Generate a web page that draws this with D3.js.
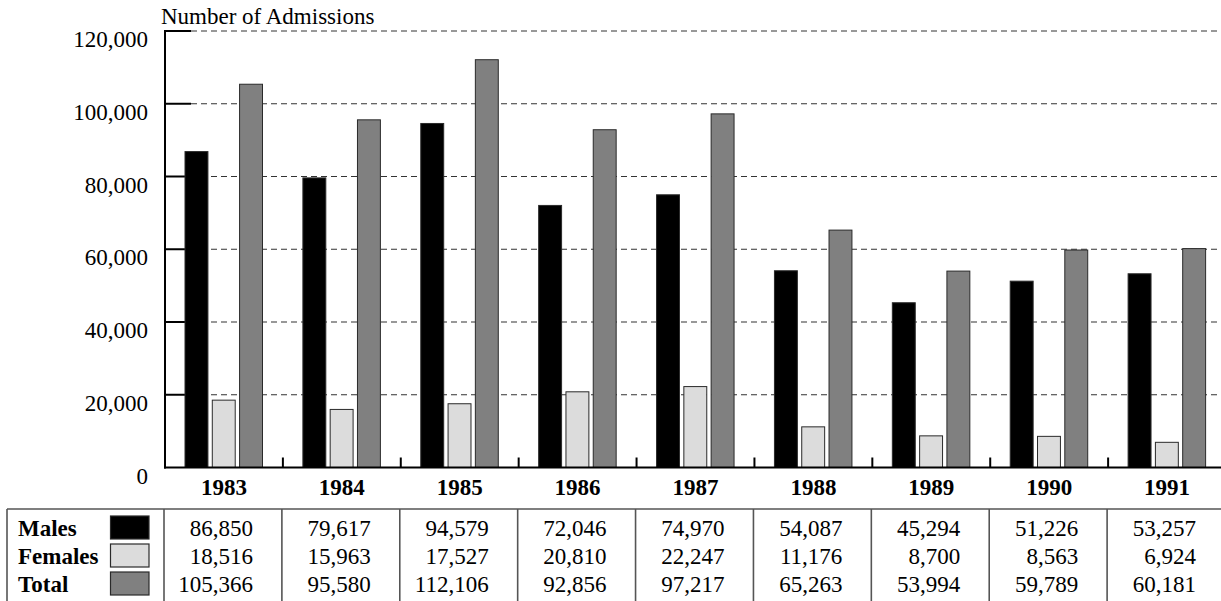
<!DOCTYPE html>
<html>
<head>
<meta charset="utf-8">
<script src="https://cdn.jsdelivr.net/npm/d3@7"></script>
<style>
  html, body { margin: 0; padding: 0; background: #fff; }
  svg { display: block; }
</style>
</head>
<body>
<svg id="chart" width="1221" height="601" font-family="'Liberation Serif', 'Times New Roman', 'DejaVu Serif', serif"></svg>
<script>
// Admissions by year, split by sex
const years = ["1983", "1984", "1985", "1986", "1987", "1988", "1989", "1990", "1991"];
const males = [86850, 79617, 94579, 72046, 74970, 54087, 45294, 51226, 53257];
const females = [18516, 15963, 17527, 20810, 22247, 11176, 8700, 8563, 6924];
const totals = [105366, 95580, 112106, 92856, 97217, 65263, 53994, 59789, 60181];
const yTicks = [0, 20000, 40000, 60000, 80000, 100000, 120000];
const seriesNames = ["Males", "Females", "Total"];
const seriesColors = ["#000000", "#dcdcdc", "#808080"];

const svg = d3.select("#chart");
const W = 1221, H = 601;
const fontSize = 23;
const serif = "Liberation Serif, Times New Roman, DejaVu Serif, serif";
const fmt = d3.format(",");

const x = d3.scaleBand().domain(years).range([165, 1226]).padding(0);
const y = d3.scaleLinear().domain([0, 120000]).range([467.5, 31]);
const inner = d3.scaleBand().domain(seriesNames).range([20, 97.5]).paddingInner(0.16).paddingOuter(0);

const series = [males, females, totals];

function label(sel) {
  return sel.style("font-family", serif).style("font-size", fontSize + "px").attr("fill", "#000");
}

// dashed gridlines
svg.append("g").selectAll("line")
  .data(yTicks.filter(d => d > 0))
  .join("line")
  .attr("x1", 191).attr("x2", W)
  .attr("y1", d => y(d)).attr("y2", d => y(d))
  .attr("stroke", "#333").attr("stroke-width", 1.2)
  .attr("stroke-dasharray", "6,4");

// short solid ticks on the value axis
svg.append("g").selectAll("line")
  .data(yTicks.filter(d => d > 0))
  .join("line")
  .attr("x1", 165).attr("x2", 191)
  .attr("y1", d => y(d)).attr("y2", d => y(d))
  .attr("stroke", "#000").attr("stroke-width", 2);

// value axis labels
svg.append("g").selectAll("text")
  .data(yTicks)
  .join("text")
  .attr("x", 148)
  .attr("y", d => y(d) + 16)
  .attr("text-anchor", "end")
  .call(label)
  .text(d => fmt(d));

// axis title
svg.append("text")
  .attr("x", 161).attr("y", 24)
  .call(label)
  .text("Number of Admissions");

// bars
const barsG = svg.append("g");
years.forEach((yr, i) => {
  seriesNames.forEach((s, j) => {
    const v = series[j][i];
    barsG.append("rect")
      .attr("x", x(yr) + inner(s))
      .attr("width", inner.bandwidth())
      .attr("y", y(v))
      .attr("height", y(0) - y(v))
      .attr("fill", seriesColors[j])
      .attr("stroke", "#2a2a2a")
      .attr("stroke-width", 1);
  });
});

// axes lines
svg.append("line")
  .attr("x1", 165).attr("x2", 165)
  .attr("y1", y(120000) - 1).attr("y2", y(0) + 1)
  .attr("stroke", "#000").attr("stroke-width", 2);
svg.append("line")
  .attr("x1", 164).attr("x2", W)
  .attr("y1", y(0)).attr("y2", y(0))
  .attr("stroke", "#000").attr("stroke-width", 2.2);

// category separator ticks
svg.append("g").selectAll("line")
  .data(years.slice(1))
  .join("line")
  .attr("x1", d => x(d)).attr("x2", d => x(d))
  .attr("y1", y(0)).attr("y2", y(0) - 10)
  .attr("stroke", "#000").attr("stroke-width", 2);

// year labels
svg.append("g").selectAll("text")
  .data(years)
  .join("text")
  .attr("x", d => x(d) + x.bandwidth() / 2)
  .attr("y", 495)
  .attr("text-anchor", "middle")
  .call(label)
  .style("font-weight", "bold")
  .text(d => d);

// data table
const tableTop = 509;
const rowBase = [535.5, 563.5, 591.5];
const tbl = svg.append("g");
tbl.append("line")
  .attr("x1", 7).attr("x2", W)
  .attr("y1", tableTop).attr("y2", tableTop)
  .attr("stroke", "#555").attr("stroke-width", 1.6);
tbl.append("line")
  .attr("x1", 7).attr("x2", 7)
  .attr("y1", tableTop).attr("y2", H)
  .attr("stroke", "#555").attr("stroke-width", 1.6);
tbl.selectAll("line.sep")
  .data(years)
  .join("line")
  .attr("class", "sep")
  .attr("x1", d => x(d) - 1).attr("x2", d => x(d) - 1)
  .attr("y1", tableTop).attr("y2", H)
  .attr("stroke", "#555").attr("stroke-width", 1.6);

seriesNames.forEach((s, j) => {
  tbl.append("text")
    .attr("x", 18).attr("y", rowBase[j])
    .call(label)
    .style("font-weight", "bold")
    .text(s);
  tbl.append("rect")
    .attr("x", 110.5).attr("y", rowBase[j] - 19.5)
    .attr("width", 38.5).attr("height", 23)
    .attr("fill", seriesColors[j])
    .attr("stroke", "#2a2a2a").attr("stroke-width", 1.2);
  years.forEach((yr, i) => {
    tbl.append("text")
      .attr("x", x(yr) + x.bandwidth() / 2 + 29)
      .attr("y", rowBase[j])
      .attr("text-anchor", "end")
      .call(label)
      .text(fmt(series[j][i]));
  });
});
</script>
</body>
</html>
